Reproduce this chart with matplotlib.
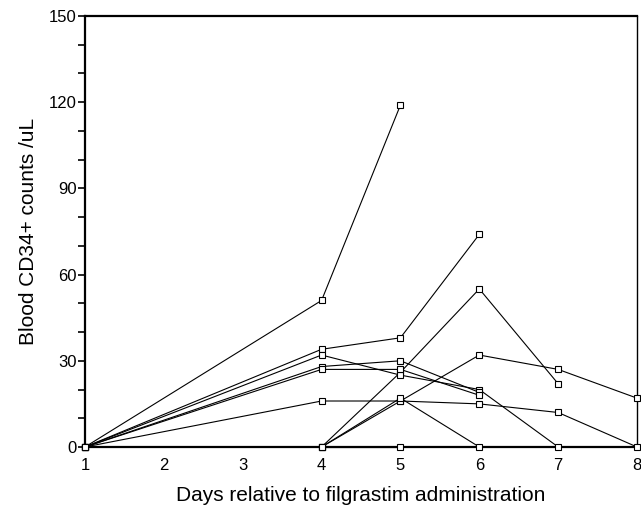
import matplotlib
matplotlib.use("Agg")
import matplotlib.pyplot as plt
import matplotlib.transforms as mtransforms
from matplotlib.ticker import MultipleLocator

plt.rcParams['font.family'] = ['Liberation Sans', 'DejaVu Sans']

# one entry per patient: days sampled and CD34+ counts
days = [
    [1, 4, 5],
    [1, 4, 5, 6],
    [4, 5, 6, 7],
    [4, 5, 6, 7, 8],
    [1, 4, 5, 6, 7, 8],
    [1, 4, 5, 6, 7],
    [1, 4, 5, 6],
    [1, 4, 5, 6],
    [4, 5, 6],
    [4, 5],
]
counts = [
    [0, 51, 119],
    [0, 34, 38, 74],
    [0, 26, 55, 22],
    [0, 16, 32, 27, 17],
    [0, 16, 16, 15, 12, 0],
    [0, 32, 25, 20, 0],
    [0, 28, 30, 19],
    [0, 27, 27, 18],
    [0, 17, 0],
    [0, 0],
]

fig = plt.figure(figsize=(6.41, 5.05), dpi=100)
ax = fig.add_axes([0.1326, 0.1149, 0.8612, 0.8534])

for d, c in zip(days, counts):
    ax.plot(d, c, color='black', linewidth=0.8, marker='s', markersize=5,
            markerfacecolor='white', markeredgecolor='black',
            markeredgewidth=0.8, clip_on=False, zorder=3)

ax.set_xlim(1, 8)
ax.set_ylim(0, 150)
ax.set_xticks(range(1, 9))
ax.yaxis.set_major_locator(MultipleLocator(30))
ax.yaxis.set_minor_locator(MultipleLocator(10))
ax.tick_params(axis='x', length=0, labelsize=12, pad=8)
ax.tick_params(axis='y', which='both', direction='out', length=5, width=1.2,
               labelsize=12, pad=1)

for side in ['left', 'top', 'bottom']:
    ax.spines[side].set_linewidth(1.6)
ax.spines['right'].set_linewidth(1.0)

# the "0" label sits a little above the baseline in the original
offset = mtransforms.ScaledTranslation(0, 8 / 100, fig.dpi_scale_trans)
fig.canvas.draw()
lbl = ax.get_yticklabels()[0]
lbl.set_transform(lbl.get_transform() + offset)

ax.set_xlabel('Days relative to filgrastim administration', fontsize=15, labelpad=9)
ax.set_ylabel('Blood CD34+ counts /uL', fontsize=15, labelpad=8)

fig.savefig('out.png', dpi=100)
